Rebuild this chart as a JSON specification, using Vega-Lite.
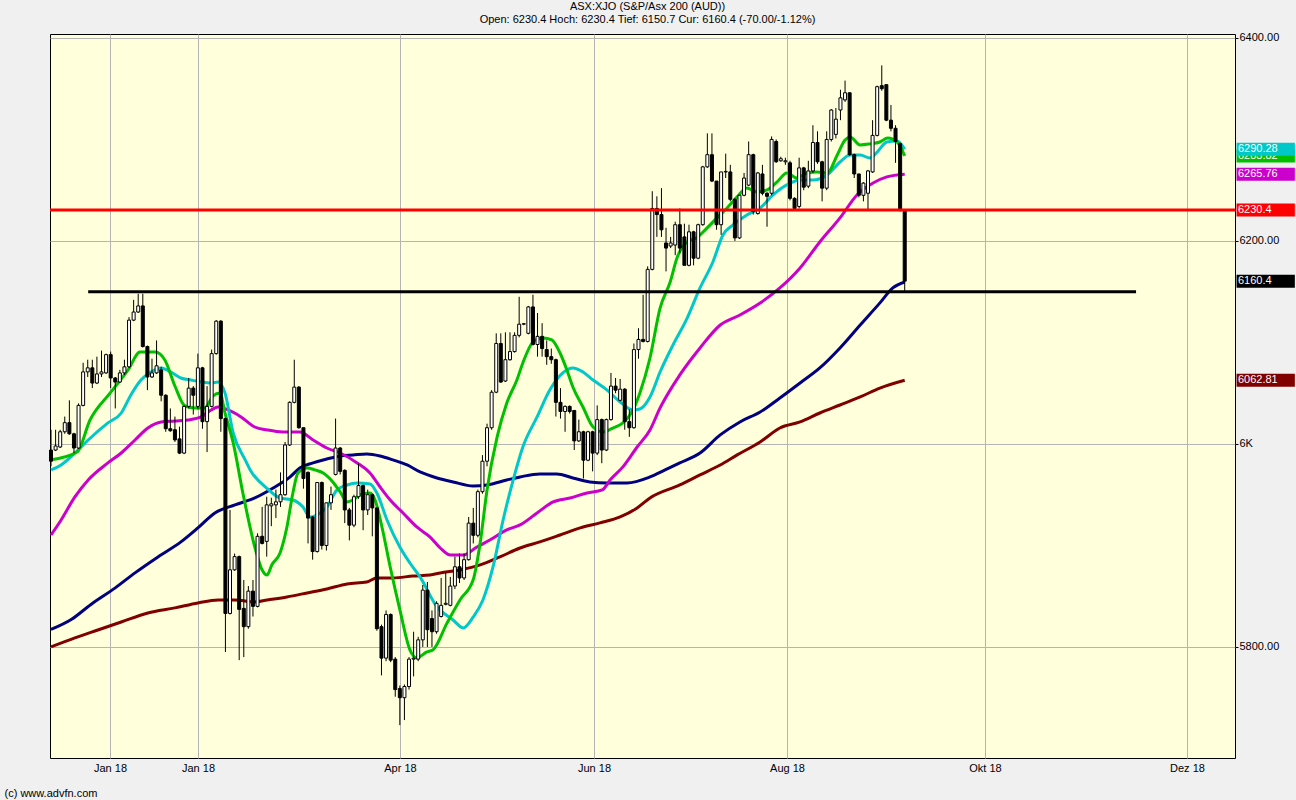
{
"$schema": "https://vega.github.io/schema/vega-lite/v6.json",
"width": 1185,
"height": 724,
"autosize": {"type": "none"},
"padding": {"left": 50, "top": 34, "right": 61, "bottom": 42},
"background": "#f0f0f0",
"config": {"view": {"fill": "#ffffdc", "stroke": "#000000", "strokeWidth": 1}, "font": "Liberation Sans", "scale": {"continuousPadding": 0}},
"title": {"text": "ASX:XJO (S&P/Asx 200 (AUD))", "subtitle": "Open: 6230.4 Hoch: 6230.4 Tief: 6150.7 Cur: 6160.4 (-70.00/-1.12%)", "fontSize": 11, "subtitleFontSize": 11, "fontWeight": "normal", "color": "#000000", "subtitleColor": "#000000", "anchor": "middle", "offset": 7, "subtitlePadding": 2, "dx": 5, "font": "Liberation Sans", "subtitleFont": "Liberation Sans"},
"datasets": {
"candles": [
{"t":1,"o":5994,"h":6014,"l":5978,"c":5983},{"t":2,"o":5994,"h":6014,"l":5993,"c":5998},{"t":3,"o":5997,"h":6014,"l":5996,"c":6012},{"t":4,"o":6012,"h":6027,"l":6010,"c":6021},{"t":5,"o":6021,"h":6043,"l":6009,"c":6010},{"t":6,"o":6010,"h":6011,"l":5991,"c":5996},{"t":7,"o":5996,"h":6040,"l":5995,"c":6038},{"t":8,"o":6038,"h":6080,"l":6037,"c":6071},{"t":9,"o":6071,"h":6083,"l":6066,"c":6075},{"t":10,"o":6075,"h":6083,"l":6055,"c":6060},
{"t":11,"o":6060,"h":6086,"l":6059,"c":6069},{"t":12,"o":6069,"h":6092,"l":6066,"c":6071},{"t":13,"o":6070,"h":6089,"l":6069,"c":6088},{"t":14,"o":6088,"h":6091,"l":6055,"c":6065},{"t":15,"o":6065,"h":6066,"l":6035,"c":6061},{"t":16,"o":6061,"h":6073,"l":6060,"c":6070},{"t":17,"o":6070,"h":6083,"l":6068,"c":6076},{"t":18,"o":6076,"h":6125,"l":6075,"c":6122},{"t":19,"o":6122,"h":6142,"l":6121,"c":6130},{"t":20,"o":6130,"h":6148,"l":6129,"c":6136},
{"t":21,"o":6136,"h":6148,"l":6095,"c":6096},{"t":22,"o":6096,"h":6097,"l":6053,"c":6066},{"t":23,"o":6066,"h":6084,"l":6065,"c":6070},{"t":24,"o":6070,"h":6102,"l":6069,"c":6077},{"t":25,"o":6073,"h":6076,"l":6042,"c":6048},{"t":26,"o":6048,"h":6049,"l":6012,"c":6015},{"t":27,"o":6015,"h":6035,"l":6012,"c":6013},{"t":28,"o":6014,"h":6027,"l":6002,"c":6004},{"t":29,"o":6005,"h":6017,"l":5990,"c":5991},{"t":30,"o":5991,"h":6038,"l":5990,"c":6037},
{"t":31,"o":6037,"h":6065,"l":6035,"c":6055},{"t":32,"o":6055,"h":6057,"l":6029,"c":6048},{"t":33,"o":6037,"h":6089,"l":6034,"c":6075},{"t":34,"o":6075,"h":6076,"l":6015,"c":6022},{"t":35,"o":6022,"h":6057,"l":5992,"c":6037},{"t":36,"o":6037,"h":6093,"l":6036,"c":6089},{"t":37,"o":6089,"h":6122,"l":6088,"c":6121},{"t":38,"o":6121,"h":6122,"l":6012,"c":6025},{"t":39,"o":6025,"h":6026,"l":5795,"c":5833},{"t":40,"o":5833,"h":5935,"l":5832,"c":5876},
{"t":41,"o":5876,"h":5892,"l":5875,"c":5889},{"t":42,"o":5889,"h":5890,"l":5787,"c":5837},{"t":43,"o":5838,"h":5866,"l":5790,"c":5820},{"t":44,"o":5820,"h":5860,"l":5818,"c":5855},{"t":45,"o":5855,"h":5866,"l":5830,"c":5840},{"t":46,"o":5840,"h":5912,"l":5839,"c":5909},{"t":47,"o":5909,"h":5938,"l":5901,"c":5902},{"t":48,"o":5904,"h":5948,"l":5889,"c":5940},{"t":49,"o":5939,"h":5947,"l":5919,"c":5941},{"t":50,"o":5940,"h":5955,"l":5927,"c":5943},
{"t":51,"o":5943,"h":5972,"l":5938,"c":5950},{"t":52,"o":5950,"h":6002,"l":5949,"c":5999},{"t":53,"o":5999,"h":6042,"l":5998,"c":6041},{"t":54,"o":6041,"h":6083,"l":6040,"c":6056},{"t":55,"o":6056,"h":6057,"l":6015,"c":6016},{"t":56,"o":6016,"h":6016,"l":5956,"c":5966},{"t":57,"o":5972,"h":5973,"l":5902,"c":5927},{"t":58,"o":5928,"h":5929,"l":5886,"c":5894},{"t":59,"o":5894,"h":5962,"l":5893,"c":5962},{"t":60,"o":5962,"h":5963,"l":5896,"c":5900},
{"t":61,"o":5900,"h":5942,"l":5895,"c":5942},{"t":62,"o":5942,"h":5958,"l":5935,"c":5950},{"t":63,"o":5970,"h":6025,"l":5969,"c":5996},{"t":64,"o":5996,"h":5997,"l":5970,"c":5973},{"t":65,"o":5974,"h":5975,"l":5922,"c":5935},{"t":66,"o":5935,"h":5937,"l":5905,"c":5920},{"t":67,"o":5920,"h":5950,"l":5918,"c":5948},{"t":68,"o":5948,"h":5981,"l":5946,"c":5959},{"t":69,"o":5959,"h":5960,"l":5915,"c":5935},{"t":70,"o":5935,"h":5955,"l":5930,"c":5950},
{"t":71,"o":5950,"h":5951,"l":5909,"c":5937},{"t":72,"o":5937,"h":5937,"l":5816,"c":5818},{"t":73,"o":5820,"h":5822,"l":5772,"c":5789},{"t":74,"o":5789,"h":5836,"l":5786,"c":5832},{"t":75,"o":5832,"h":5833,"l":5785,"c":5787},{"t":76,"o":5788,"h":5790,"l":5751,"c":5758},{"t":77,"o":5759,"h":5762,"l":5723,"c":5750},{"t":78,"o":5750,"h":5763,"l":5728,"c":5761},{"t":79,"o":5761,"h":5790,"l":5758,"c":5788},{"t":80,"o":5788,"h":5815,"l":5771,"c":5789},
{"t":81,"o":5788,"h":5810,"l":5786,"c":5807},{"t":82,"o":5807,"h":5861,"l":5800,"c":5856},{"t":83,"o":5856,"h":5864,"l":5800,"c":5817},{"t":84,"o":5828,"h":5836,"l":5800,"c":5815},{"t":85,"o":5815,"h":5845,"l":5813,"c":5843},{"t":86,"o":5830,"h":5868,"l":5829,"c":5841},{"t":87,"o":5842,"h":5873,"l":5841,"c":5843},{"t":88,"o":5841,"h":5869,"l":5840,"c":5860},{"t":89,"o":5860,"h":5889,"l":5857,"c":5879},{"t":90,"o":5879,"h":5892,"l":5863,"c":5868},
{"t":91,"o":5868,"h":5892,"l":5866,"c":5886},{"t":92,"o":5886,"h":5928,"l":5885,"c":5922},{"t":93,"o":5922,"h":5937,"l":5902,"c":5910},{"t":94,"o":5910,"h":5955,"l":5908,"c":5953},{"t":95,"o":5953,"h":5989,"l":5951,"c":5983},{"t":96,"o":5983,"h":6020,"l":5978,"c":6016},{"t":97,"o":6016,"h":6053,"l":6014,"c":6051},{"t":98,"o":6051,"h":6109,"l":6050,"c":6099},{"t":99,"o":6099,"h":6109,"l":6060,"c":6061},{"t":100,"o":6062,"h":6110,"l":6061,"c":6083},
{"t":101,"o":6083,"h":6110,"l":6082,"c":6091},{"t":102,"o":6091,"h":6110,"l":6090,"c":6107},{"t":103,"o":6107,"h":6145,"l":6105,"c":6118},{"t":104,"o":6118,"h":6119,"l":6117,"c":6118.5},{"t":105,"o":6109,"h":6136,"l":6108,"c":6135},{"t":106,"o":6135,"h":6147,"l":6097,"c":6098},{"t":107,"o":6098,"h":6129,"l":6086,"c":6106},{"t":108,"o":6106,"h":6119,"l":6086,"c":6094},{"t":109,"o":6093,"h":6102,"l":6078,"c":6086},{"t":110,"o":6086,"h":6094,"l":6079,"c":6083},
{"t":111,"o":6083,"h":6084,"l":6027,"c":6041},{"t":112,"o":6041,"h":6055,"l":6025,"c":6032},{"t":113,"o":6032,"h":6038,"l":6012,"c":6037},{"t":114,"o":6037,"h":6038,"l":6030,"c":6032},{"t":115,"o":6033,"h":6033,"l":5994,"c":6003},{"t":116,"o":6003,"h":6024,"l":6002,"c":6012},{"t":117,"o":6012,"h":6013,"l":5966,"c":5984},{"t":118,"o":5984,"h":6013,"l":5983,"c":6012},{"t":119,"o":6012,"h":6013,"l":5973,"c":5991},{"t":120,"o":5991,"h":6038,"l":5989,"c":6024},
{"t":121,"o":6024,"h":6025,"l":5981,"c":5994},{"t":122,"o":5994,"h":6025,"l":5993,"c":6024},{"t":123,"o":6024,"h":6070,"l":6023,"c":6057},{"t":124,"o":6057,"h":6065,"l":6050,"c":6053},{"t":125,"o":6043,"h":6064,"l":6042,"c":6054},{"t":126,"o":6054,"h":6055,"l":6014,"c":6022},{"t":127,"o":6022,"h":6034,"l":6007,"c":6016},{"t":128,"o":6016,"h":6099,"l":6015,"c":6093},{"t":129,"o":6093,"h":6114,"l":6084,"c":6103},{"t":130,"o":6103,"h":6147,"l":6100,"c":6101},
{"t":131,"o":6101,"h":6175,"l":6100,"c":6172},{"t":132,"o":6172,"h":6249,"l":6171,"c":6232},{"t":133,"o":6232,"h":6244,"l":6204,"c":6226},{"t":134,"o":6226,"h":6252,"l":6204,"c":6211},{"t":135,"o":6198,"h":6213,"l":6170,"c":6193},{"t":136,"o":6195,"h":6204,"l":6193,"c":6198},{"t":137,"o":6196,"h":6219,"l":6186,"c":6216},{"t":138,"o":6216,"h":6232,"l":6188,"c":6193},{"t":139,"o":6204,"h":6217,"l":6176,"c":6176},{"t":140,"o":6176,"h":6216,"l":6175,"c":6209},
{"t":141,"o":6209,"h":6210,"l":6176,"c":6183},{"t":142,"o":6183,"h":6217,"l":6182,"c":6216},{"t":143,"o":6216,"h":6274,"l":6215,"c":6273},{"t":144,"o":6273,"h":6306,"l":6272,"c":6285},{"t":145,"o":6285,"h":6306,"l":6258,"c":6259},{"t":146,"o":6259,"h":6259,"l":6211,"c":6216},{"t":147,"o":6216,"h":6268,"l":6206,"c":6268},{"t":148,"o":6268,"h":6286,"l":6262,"c":6268.5},{"t":149,"o":6268,"h":6275,"l":6239,"c":6241},{"t":150,"o":6241,"h":6242,"l":6200,"c":6203},
{"t":151,"o":6203,"h":6245,"l":6202,"c":6245},{"t":152,"o":6245,"h":6267,"l":6244,"c":6262},{"t":153,"o":6255,"h":6298,"l":6254,"c":6285},{"t":154,"o":6285,"h":6286,"l":6226,"c":6229},{"t":155,"o":6227,"h":6268,"l":6226,"c":6267},{"t":156,"o":6266,"h":6275,"l":6245,"c":6247},{"t":157,"o":6247,"h":6248,"l":6214,"c":6244},{"t":158,"o":6247,"h":6303,"l":6245,"c":6300},{"t":159,"o":6298,"h":6300,"l":6277,"c":6278},{"t":160,"o":6279,"h":6283,"l":6278,"c":6281},
{"t":161,"o":6278,"h":6282,"l":6275,"c":6279},{"t":162,"o":6277,"h":6279,"l":6240,"c":6242},{"t":163,"o":6242,"h":6243,"l":6230,"c":6232},{"t":164,"o":6234,"h":6282,"l":6232,"c":6272},{"t":165,"o":6272,"h":6273,"l":6250,"c":6253},{"t":166,"o":6254,"h":6279,"l":6252,"c":6269},{"t":167,"o":6269,"h":6314,"l":6267,"c":6297},{"t":168,"o":6297,"h":6308,"l":6276,"c":6278},{"t":169,"o":6278,"h":6279,"l":6239,"c":6252},{"t":170,"o":6252,"h":6308,"l":6250,"c":6300},
{"t":171,"o":6300,"h":6330,"l":6298,"c":6329},{"t":172,"o":6305,"h":6331,"l":6301,"c":6320},{"t":173,"o":6329,"h":6349,"l":6319,"c":6341},{"t":174,"o":6339,"h":6358,"l":6337,"c":6346},{"t":175,"o":6346,"h":6346,"l":6284,"c":6285},{"t":176,"o":6285,"h":6286,"l":6262,"c":6266},{"t":177,"o":6266,"h":6266,"l":6243,"c":6245},{"t":178,"o":6245,"h":6258,"l":6239,"c":6257},{"t":179,"o":6247,"h":6270,"l":6231,"c":6269},{"t":180,"o":6268,"h":6319,"l":6267,"c":6304},
{"t":181,"o":6304,"h":6353,"l":6303,"c":6352},{"t":182,"o":6353,"h":6373,"l":6348,"c":6350},{"t":183,"o":6354,"h":6354,"l":6318,"c":6319},{"t":184,"o":6319,"h":6334,"l":6308,"c":6311},{"t":185,"o":6311,"h":6314,"l":6277,"c":6298},{"t":186,"o":6296,"h":6297,"l":6229,"c":6230.4},{"t":187,"o":6230.4,"h":6230.4,"l":6150.7,"c":6160.4}
],
"ma": [
{"s":"MA5","t":1.0,"v":5800.0},{"s":"MA5","t":6.2,"v":5808.9},{"s":"MA5","t":11.2,"v":5816.7},{"s":"MA5","t":16.3,"v":5824.6},{"s":"MA5","t":22.1,"v":5833.5},{"s":"MA5","t":28.0,"v":5838.5},{"s":"MA5","t":33.0,"v":5843.4},{"s":"MA5","t":37.4,"v":5846.3},{"s":"MA5","t":41.1,"v":5846.3},{"s":"MA5","t":45.4,"v":5844.4},{"s":"MA5","t":48.1,"v":5846.3},{"s":"MA5","t":52.4,"v":5849.3},{"s":"MA5","t":56.8,"v":5853.2},{"s":"MA5","t":61.1,"v":5857.1},{"s":"MA5","t":65.5,"v":5862.1},{"s":"MA5","t":69.8,"v":5864.0},{"s":"MA5","t":72.0,"v":5868.0},{"s":"MA5","t":75.5,"v":5868.0},{"s":"MA5","t":79.9,"v":5869.9},{"s":"MA5","t":83.6,"v":5870.9},{"s":"MA5","t":85.8,"v":5872.9},{"s":"MA5","t":90.1,"v":5875.9},{"s":"MA5","t":94.5,"v":5880.8},{"s":"MA5","t":98.8,"v":5888.7},{"s":"MA5","t":103.2,"v":5897.5},{"s":"MA5","t":107.5,"v":5903.5},{"s":"MA5","t":111.9,"v":5910.3},{"s":"MA5","t":116.3,"v":5917.3},{"s":"MA5","t":120.6,"v":5922.2},{"s":"MA5","t":125.0,"v":5928.1},{"s":"MA5","t":128.7,"v":5937.0},{"s":"MA5","t":131.5,"v":5946.8},{"s":"MA5","t":138.0,"v":5959.6},{"s":"MA5","t":142.4,"v":5969.5},{"s":"MA5","t":146.8,"v":5979.3},{"s":"MA5","t":150.5,"v":5989.2},{"s":"MA5","t":155.5,"v":6002.0},{"s":"MA5","t":159.8,"v":6015.7},{"s":"MA5","t":164.2,"v":6021.7},{"s":"MA5","t":168.5,"v":6030.5},{"s":"MA5","t":172.9,"v":6038.4},{"s":"MA5","t":177.3,"v":6046.3},{"s":"MA5","t":181.6,"v":6055.1},{"s":"MA5","t":187.0,"v":6062.8},
{"s":"MA4","t":1.0,"v":5817.2},{"s":"MA4","t":5.4,"v":5827.0},{"s":"MA4","t":9.7,"v":5841.9},{"s":"MA4","t":15.0,"v":5858.2},{"s":"MA4","t":19.3,"v":5873.0},{"s":"MA4","t":24.3,"v":5888.7},{"s":"MA4","t":29.3,"v":5903.5},{"s":"MA4","t":33.0,"v":5917.3},{"s":"MA4","t":36.7,"v":5932.0},{"s":"MA4","t":41.1,"v":5940.0},{"s":"MA4","t":45.4,"v":5946.8},{"s":"MA4","t":49.4,"v":5956.6},{"s":"MA4","t":53.1,"v":5967.5},{"s":"MA4","t":55.2,"v":5976.4},{"s":"MA4","t":58.1,"v":5981.3},{"s":"MA4","t":61.1,"v":5985.2},{"s":"MA4","t":64.0,"v":5988.2},{"s":"MA4","t":66.8,"v":5989.2},{"s":"MA4","t":69.8,"v":5990.2},{"s":"MA4","t":72.7,"v":5988.2},{"s":"MA4","t":75.5,"v":5984.3},{"s":"MA4","t":78.6,"v":5979.3},{"s":"MA4","t":81.4,"v":5972.4},{"s":"MA4","t":85.1,"v":5966.5},{"s":"MA4","t":88.6,"v":5962.6},{"s":"MA4","t":93.0,"v":5958.6},{"s":"MA4","t":96.0,"v":5959.6},{"s":"MA4","t":100.3,"v":5964.5},{"s":"MA4","t":103.2,"v":5967.5},{"s":"MA4","t":107.5,"v":5970.5},{"s":"MA4","t":111.2,"v":5970.5},{"s":"MA4","t":114.7,"v":5966.5},{"s":"MA4","t":118.4,"v":5962.6},{"s":"MA4","t":122.1,"v":5961.6},{"s":"MA4","t":126.5,"v":5961.6},{"s":"MA4","t":131.5,"v":5967.5},{"s":"MA4","t":134.8,"v":5974.4},{"s":"MA4","t":138.0,"v":5981.3},{"s":"MA4","t":142.4,"v":5991.1},{"s":"MA4","t":146.8,"v":6008.9},{"s":"MA4","t":151.1,"v":6021.7},{"s":"MA4","t":155.5,"v":6031.5},{"s":"MA4","t":159.8,"v":6045.3},{"s":"MA4","t":164.2,"v":6060.1},{"s":"MA4","t":168.5,"v":6074.9},{"s":"MA4","t":172.9,"v":6094.6},{"s":"MA4","t":177.3,"v":6117.2},{"s":"MA4","t":181.6,"v":6139.0},{"s":"MA4","t":184.4,"v":6153.7},{"s":"MA4","t":187.0,"v":6159.6},
{"s":"MA3","t":1.0,"v":5910.3},{"s":"MA3","t":3.2,"v":5925.1},{"s":"MA3","t":6.2,"v":5947.8},{"s":"MA3","t":9.1,"v":5964.5},{"s":"MA3","t":13.4,"v":5981.3},{"s":"MA3","t":16.3,"v":5991.1},{"s":"MA3","t":19.3,"v":6003.9},{"s":"MA3","t":22.1,"v":6015.7},{"s":"MA3","t":25.0,"v":6021.7},{"s":"MA3","t":28.0,"v":6022.6},{"s":"MA3","t":30.8,"v":6023.6},{"s":"MA3","t":33.7,"v":6026.6},{"s":"MA3","t":35.9,"v":6033.5},{"s":"MA3","t":37.4,"v":6036.4},{"s":"MA3","t":39.6,"v":6033.5},{"s":"MA3","t":42.4,"v":6026.6},{"s":"MA3","t":45.4,"v":6016.7},{"s":"MA3","t":48.1,"v":6013.8},{"s":"MA3","t":51.5,"v":6011.8},{"s":"MA3","t":55.2,"v":6011.8},{"s":"MA3","t":58.1,"v":6003.9},{"s":"MA3","t":61.1,"v":5996.0},{"s":"MA3","t":64.0,"v":5991.1},{"s":"MA3","t":67.7,"v":5981.3},{"s":"MA3","t":70.5,"v":5971.4},{"s":"MA3","t":72.7,"v":5957.6},{"s":"MA3","t":74.9,"v":5944.8},{"s":"MA3","t":77.7,"v":5932.0},{"s":"MA3","t":80.7,"v":5918.2},{"s":"MA3","t":83.6,"v":5908.3},{"s":"MA3","t":85.8,"v":5897.5},{"s":"MA3","t":88.0,"v":5890.6},{"s":"MA3","t":90.8,"v":5890.6},{"s":"MA3","t":93.8,"v":5898.5},{"s":"MA3","t":96.6,"v":5905.4},{"s":"MA3","t":100.3,"v":5915.3},{"s":"MA3","t":103.2,"v":5920.2},{"s":"MA3","t":106.9,"v":5932.0},{"s":"MA3","t":110.4,"v":5942.9},{"s":"MA3","t":114.1,"v":5946.8},{"s":"MA3","t":117.8,"v":5951.7},{"s":"MA3","t":121.1,"v":5954.7},{"s":"MA3","t":122.8,"v":5964.5},{"s":"MA3","t":125.6,"v":5977.4},{"s":"MA3","t":128.7,"v":5997.0},{"s":"MA3","t":131.5,"v":6013.8},{"s":"MA3","t":133.7,"v":6035.5},{"s":"MA3","t":138.0,"v":6068.0},{"s":"MA3","t":142.4,"v":6094.6},{"s":"MA3","t":146.8,"v":6117.2},{"s":"MA3","t":151.1,"v":6127.1},{"s":"MA3","t":155.5,"v":6138.9},{"s":"MA3","t":159.8,"v":6153.7},{"s":"MA3","t":164.2,"v":6173.4},{"s":"MA3","t":168.5,"v":6199.0},{"s":"MA3","t":172.9,"v":6222.7},{"s":"MA3","t":176.6,"v":6245.3},{"s":"MA3","t":180.1,"v":6257.1},{"s":"MA3","t":183.1,"v":6263.1},{"s":"MA3","t":187.0,"v":6265.8},
{"s":"MA2","t":1.0,"v":5974.4},{"s":"MA2","t":3.2,"v":5979.3},{"s":"MA2","t":6.2,"v":5991.1},{"s":"MA2","t":9.1,"v":6003.9},{"s":"MA2","t":13.4,"v":6020.7},{"s":"MA2","t":16.3,"v":6030.5},{"s":"MA2","t":18.4,"v":6048.3},{"s":"MA2","t":20.6,"v":6063.0},{"s":"MA2","t":22.8,"v":6070.9},{"s":"MA2","t":25.0,"v":6074.9},{"s":"MA2","t":27.1,"v":6070.9},{"s":"MA2","t":29.3,"v":6065.0},{"s":"MA2","t":31.5,"v":6063.0},{"s":"MA2","t":33.7,"v":6061.1},{"s":"MA2","t":35.9,"v":6060.1},{"s":"MA2","t":37.4,"v":6061.1},{"s":"MA2","t":38.9,"v":6050.3},{"s":"MA2","t":40.7,"v":6010.8},{"s":"MA2","t":43.3,"v":5984.3},{"s":"MA2","t":44.4,"v":5974.4},{"s":"MA2","t":48.1,"v":5956.1},{"s":"MA2","t":50.9,"v":5946.7},{"s":"MA2","t":53.7,"v":5944.8},{"s":"MA2","t":55.9,"v":5937.8},{"s":"MA2","t":57.4,"v":5928.0},{"s":"MA2","t":58.9,"v":5930.0},{"s":"MA2","t":61.1,"v":5937.8},{"s":"MA2","t":63.3,"v":5954.7},{"s":"MA2","t":65.5,"v":5959.6},{"s":"MA2","t":67.7,"v":5961.6},{"s":"MA2","t":70.5,"v":5960.6},{"s":"MA2","t":72.0,"v":5951.7},{"s":"MA2","t":74.2,"v":5925.1},{"s":"MA2","t":77.0,"v":5898.5},{"s":"MA2","t":79.2,"v":5882.7},{"s":"MA2","t":81.4,"v":5869.0},{"s":"MA2","t":85.1,"v":5839.4},{"s":"MA2","t":88.6,"v":5826.6},{"s":"MA2","t":90.8,"v":5818.8},{"s":"MA2","t":93.0,"v":5829.6},{"s":"MA2","t":95.1,"v":5846.3},{"s":"MA2","t":97.3,"v":5878.8},{"s":"MA2","t":99.5,"v":5925.1},{"s":"MA2","t":101.7,"v":5964.6},{"s":"MA2","t":103.8,"v":5997.0},{"s":"MA2","t":106.9,"v":6026.6},{"s":"MA2","t":109.7,"v":6053.3},{"s":"MA2","t":112.5,"v":6070.0},{"s":"MA2","t":114.7,"v":6074.9},{"s":"MA2","t":116.9,"v":6070.9},{"s":"MA2","t":119.1,"v":6063.0},{"s":"MA2","t":122.1,"v":6053.3},{"s":"MA2","t":125.0,"v":6041.4},{"s":"MA2","t":127.8,"v":6033.5},{"s":"MA2","t":129.3,"v":6034.5},{"s":"MA2","t":131.5,"v":6046.3},{"s":"MA2","t":133.7,"v":6070.9},{"s":"MA2","t":136.5,"v":6097.4},{"s":"MA2","t":139.6,"v":6124.0},{"s":"MA2","t":142.4,"v":6153.7},{"s":"MA2","t":145.2,"v":6179.3},{"s":"MA2","t":147.4,"v":6205.9},{"s":"MA2","t":149.6,"v":6215.8},{"s":"MA2","t":152.6,"v":6225.6},{"s":"MA2","t":155.5,"v":6232.5},{"s":"MA2","t":158.3,"v":6245.3},{"s":"MA2","t":161.3,"v":6255.2},{"s":"MA2","t":164.2,"v":6260.1},{"s":"MA2","t":167.0,"v":6260.1},{"s":"MA2","t":170.1,"v":6265.0},{"s":"MA2","t":172.9,"v":6277.8},{"s":"MA2","t":175.1,"v":6284.7},{"s":"MA2","t":177.3,"v":6284.7},{"s":"MA2","t":179.4,"v":6281.7},{"s":"MA2","t":181.0,"v":6287.6},{"s":"MA2","t":183.1,"v":6297.5},{"s":"MA2","t":185.3,"v":6298.5},{"s":"MA2","t":187.0,"v":6290.3},
{"s":"MA1","t":0.8,"v":5984.2},{"s":"MA1","t":6.7,"v":5992.1},{"s":"MA1","t":9.5,"v":6023.6},{"s":"MA1","t":13.9,"v":6050.3},{"s":"MA1","t":17.8,"v":6072.9},{"s":"MA1","t":20.4,"v":6090.6},{"s":"MA1","t":23.7,"v":6090.6},{"s":"MA1","t":25.8,"v":6082.8},{"s":"MA1","t":28.0,"v":6057.1},{"s":"MA1","t":30.2,"v":6037.4},{"s":"MA1","t":32.4,"v":6035.5},{"s":"MA1","t":34.5,"v":6035.5},{"s":"MA1","t":36.3,"v":6047.3},{"s":"MA1","t":37.8,"v":6050.3},{"s":"MA1","t":38.9,"v":6030.6},{"s":"MA1","t":40.7,"v":6001.0},{"s":"MA1","t":42.8,"v":5951.7},{"s":"MA1","t":45.4,"v":5898.5},{"s":"MA1","t":47.0,"v":5875.9},{"s":"MA1","t":48.1,"v":5870.9},{"s":"MA1","t":49.1,"v":5880.8},{"s":"MA1","t":50.9,"v":5892.6},{"s":"MA1","t":52.4,"v":5918.2},{"s":"MA1","t":53.7,"v":5951.7},{"s":"MA1","t":54.8,"v":5971.4},{"s":"MA1","t":56.8,"v":5976.4},{"s":"MA1","t":58.5,"v":5974.4},{"s":"MA1","t":60.3,"v":5971.4},{"s":"MA1","t":62.4,"v":5962.6},{"s":"MA1","t":64.0,"v":5952.7},{"s":"MA1","t":65.5,"v":5942.9},{"s":"MA1","t":66.8,"v":5944.8},{"s":"MA1","t":68.3,"v":5949.8},{"s":"MA1","t":70.5,"v":5951.7},{"s":"MA1","t":71.6,"v":5944.8},{"s":"MA1","t":73.1,"v":5918.2},{"s":"MA1","t":74.9,"v":5878.8},{"s":"MA1","t":77.0,"v":5836.8},{"s":"MA1","t":79.2,"v":5797.1},{"s":"MA1","t":80.7,"v":5789.2},{"s":"MA1","t":82.9,"v":5795.1},{"s":"MA1","t":84.2,"v":5797.1},{"s":"MA1","t":87.3,"v":5823.7},{"s":"MA1","t":90.1,"v":5846.3},{"s":"MA1","t":93.0,"v":5866.4},{"s":"MA1","t":94.5,"v":5902.5},{"s":"MA1","t":96.0,"v":5954.7},{"s":"MA1","t":98.2,"v":6006.9},{"s":"MA1","t":100.3,"v":6040.4},{"s":"MA1","t":102.5,"v":6063.0},{"s":"MA1","t":103.8,"v":6079.8},{"s":"MA1","t":106.0,"v":6100.4},{"s":"MA1","t":108.2,"v":6104.4},{"s":"MA1","t":110.1,"v":6102.5},{"s":"MA1","t":111.9,"v":6089.6},{"s":"MA1","t":113.4,"v":6072.9},{"s":"MA1","t":114.7,"v":6056.1},{"s":"MA1","t":116.9,"v":6036.4},{"s":"MA1","t":119.1,"v":6016.7},{"s":"MA1","t":121.3,"v":6011.8},{"s":"MA1","t":123.4,"v":6015.7},{"s":"MA1","t":125.6,"v":6020.7},{"s":"MA1","t":127.8,"v":6033.5},{"s":"MA1","t":129.3,"v":6050.3},{"s":"MA1","t":131.5,"v":6084.7},{"s":"MA1","t":133.7,"v":6133.8},{"s":"MA1","t":135.9,"v":6159.6},{"s":"MA1","t":137.4,"v":6183.4},{"s":"MA1","t":139.6,"v":6199.0},{"s":"MA1","t":141.7,"v":6203.2},{"s":"MA1","t":143.9,"v":6212.6},{"s":"MA1","t":146.1,"v":6222.7},{"s":"MA1","t":148.3,"v":6232.5},{"s":"MA1","t":150.5,"v":6243.4},{"s":"MA1","t":152.6,"v":6252.2},{"s":"MA1","t":154.8,"v":6248.3},{"s":"MA1","t":157.0,"v":6250.3},{"s":"MA1","t":159.2,"v":6258.2},{"s":"MA1","t":161.3,"v":6267.0},{"s":"MA1","t":163.5,"v":6262.1},{"s":"MA1","t":165.7,"v":6267.0},{"s":"MA1","t":167.9,"v":6268.0},{"s":"MA1","t":170.1,"v":6267.0},{"s":"MA1","t":172.3,"v":6284.7},{"s":"MA1","t":174.0,"v":6299.5},{"s":"MA1","t":175.1,"v":6302.5},{"s":"MA1","t":177.3,"v":6294.6},{"s":"MA1","t":179.4,"v":6295.6},{"s":"MA1","t":181.6,"v":6297.5},{"s":"MA1","t":183.3,"v":6301.5},{"s":"MA1","t":185.3,"v":6297.5},{"s":"MA1","t":187.0,"v":6283.8}
],
"tags": [
{"s":"MA5","v":6062.81,"lab":"6062.81"},
{"s":"Cur","v":6160.4,"lab":"6160.4"},
{"s":"Open","v":6230.4,"lab":"6230.4"},
{"s":"MA3","v":6265.76,"lab":"6265.76"},
{"s":"MA1","v":6283.82,"lab":"6283.82"},
{"s":"MA2","v":6290.28,"lab":"6290.28"}
],
"support": [{"v":6150,"t1":9.1,"t2":237.4}]
},
"layer": [
{
"data": {"name": "ma"},
"mark": {"type": "line", "strokeWidth": 3, "interpolate": "monotone"},
"encoding": {
"x": {"field": "t", "type": "quantitative", "scale": {"domain": [0.78, 258.96], "zero": false, "nice": false, "padding": 0},
"axis": {"values": [13.85, 33.03, 77.03, 119.3, 161.35, 204.49, 248.49], "labelExpr": "datum.value < 50 ? 'Jan 18' : datum.value < 100 ? 'Apr 18' : datum.value < 140 ? 'Jun 18' : datum.value < 180 ? 'Aug 18' : datum.value < 220 ? 'Okt 18' : 'Dez 18'", "grid": true, "gridColor": "#b4b4b4", "gridOpacity": 1, "ticks": false, "domain": false, "labelFontSize": 11, "labelColor": "#000000", "labelPadding": 4, "labelFont": "Liberation Sans", "title": "(c) www.advfn.com", "titleX": -46, "titleY": 38, "titleAlign": "left", "titleAnchor": "start", "titleFontSize": 11, "titleFontWeight": "normal", "titleColor": "#000000", "titleFont": "Liberation Sans", "titleBaseline": "alphabetic"}},
"y": {"field": "v", "type": "quantitative", "scale": {"domain": [5690.6, 6403.9], "zero": false, "nice": false, "padding": 0},
"axis": {"orient": "right", "values": [5800, 6000, 6200, 6400], "labelExpr": "datum.value == 6000 ? '6K' : format(datum.value, '.2f')", "grid": true, "gridColor": "#b4b4b4", "gridOpacity": 1, "tickSize": 3, "tickColor": "#000000", "domain": false, "labelFontSize": 11, "labelColor": "#000000", "labelPadding": 1, "labelFont": "Liberation Sans", "title": null}},
"color": {"field": "s", "type": "nominal", "scale": {"domain": ["MA1", "MA2", "MA3", "MA4", "MA5", "Open", "Cur"], "range": ["#00c000", "#00c8c8", "#cc00cc", "#000080", "#800000", "#ff0000", "#000000"]}, "legend": null}
}
},
{
"data": {"name": "candles"},
"mark": {"type": "rule", "color": "#000000", "strokeWidth": 1},
"encoding": {
"x": {"field": "t", "type": "quantitative"},
"y": {"field": "l", "type": "quantitative"},
"y2": {"field": "h"}
}
},
{
"data": {"name": "candles"},
"mark": {"type": "bar", "width": 3, "stroke": "#000000", "strokeWidth": 1},
"encoding": {
"x": {"field": "t", "type": "quantitative"},
"y": {"field": "o", "type": "quantitative"},
"y2": {"field": "c"},
"fill": {"condition": {"test": "datum.c >= datum.o", "value": "#ffffff"}, "value": "#000000"}
}
},
{
"data": {"values": [{}]},
"mark": {"type": "rule", "color": "#ff0000", "strokeWidth": 3},
"encoding": {"y": {"datum": 6230.4, "type": "quantitative"}}
},
{
"data": {"name": "support"},
"mark": {"type": "rule", "color": "#000000", "strokeWidth": 3},
"encoding": {
"x": {"field": "t1", "type": "quantitative"},
"x2": {"field": "t2"},
"y": {"field": "v", "type": "quantitative"}
}
},
{
"data": {"name": "tags"},
"transform": [{"filter": "datum.s == 'MA1'"}],
"mark": {"type": "rect", "height": 13},
"encoding": {
"x": {"datum": 259.3, "type": "quantitative"},
"x2": {"datum": 272},
"y": {"field": "v", "type": "quantitative"},
"color": {"field": "s", "type": "nominal", "legend": null}
}
},
{
"data": {"name": "tags"},
"transform": [{"filter": "datum.s == 'MA1'"}],
"mark": {"type": "text", "align": "left", "baseline": "middle", "color": "#ffffff", "fontSize": 11, "font": "Liberation Sans"},
"encoding": {
"x": {"datum": 259.6, "type": "quantitative"},
"y": {"field": "v", "type": "quantitative"},
"text": {"field": "lab"}
}
},
{
"data": {"name": "tags"},
"transform": [{"filter": "datum.s != 'MA1'"}],
"mark": {"type": "rect", "height": 13},
"encoding": {
"x": {"datum": 259.3, "type": "quantitative"},
"x2": {"datum": 272},
"y": {"field": "v", "type": "quantitative"},
"color": {"field": "s", "type": "nominal", "legend": null}
}
},
{
"data": {"name": "tags"},
"transform": [{"filter": "datum.s != 'MA1'"}],
"mark": {"type": "text", "align": "left", "baseline": "middle", "color": "#ffffff", "fontSize": 11, "font": "Liberation Sans"},
"encoding": {
"x": {"datum": 259.6, "type": "quantitative"},
"y": {"field": "v", "type": "quantitative"},
"text": {"field": "lab"}
}
}
]
}
